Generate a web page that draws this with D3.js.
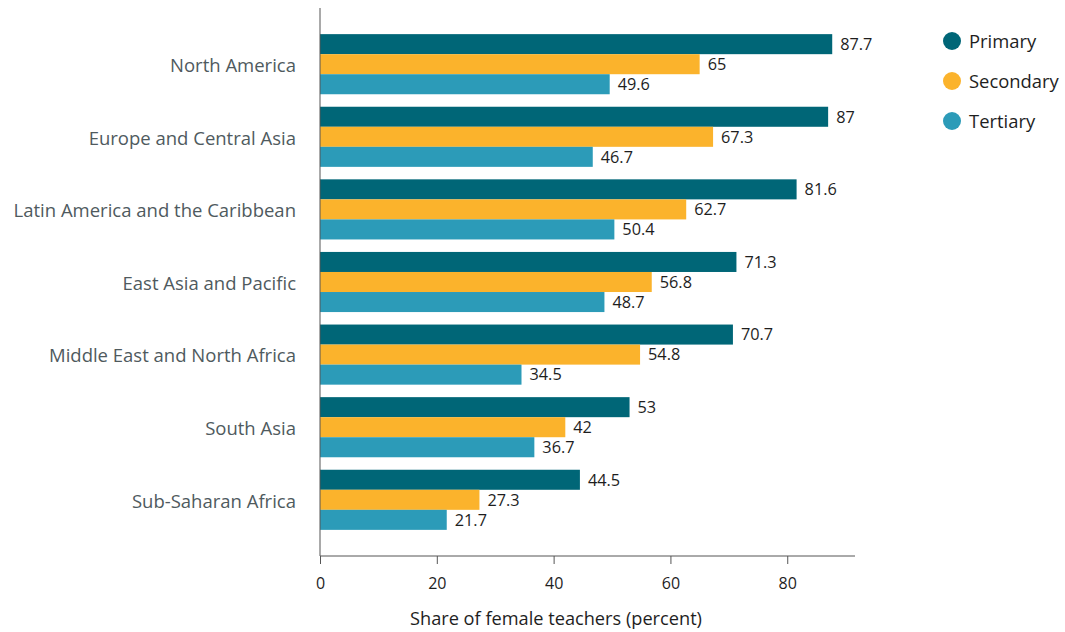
<!DOCTYPE html>
<html><head><meta charset="utf-8">
<script src="https://cdn.jsdelivr.net/npm/d3@7"></script>
<style>body{margin:0;background:#fff;} text{font-family:"Open Sans", sans-serif;}</style>
</head><body>
<svg id="chart" width="1065" height="632"></svg>
<script>
const categories = ["North America","Europe and Central Asia","Latin America and the Caribbean","East Asia and Pacific","Middle East and North Africa","South Asia","Sub-Saharan Africa"];
const seriesNames = ["Primary","Secondary","Tertiary"];
const primary = [87.7,87,81.6,71.3,70.7,53,44.5];
const secondary = [65,67.3,62.7,56.8,54.8,42,27.3];
const tertiary = [49.6,46.7,50.4,48.7,34.5,36.7,21.7];
const xTicks = [0,20,40,60,80];
const colors = ["#006677","#FBB32C","#2C9BB8"];

const series = [primary, secondary, tertiary];
const svg = d3.select("#chart");
const x = d3.scaleLinear().domain([0,91.6]).range([320,855]);
const y = d3.scaleBand().domain(categories).range([8,556]).paddingInner(0.172).paddingOuter(0.36);
const ySub = d3.scaleBand().domain(seriesNames).range([0,y.bandwidth()]);

const g = svg.append("g");
categories.forEach((c,i)=>{
  const gg = g.append("g").attr("transform",`translate(0,${y(c)})`);
  seriesNames.forEach((s,j)=>{
    const v = series[j][i];
    gg.append("rect").attr("x",x(0)).attr("y",ySub(s)).attr("width",x(v)-x(0)).attr("height",ySub.bandwidth()).attr("fill",colors[j]);
    gg.append("text").attr("x",x(v)+8).attr("y",ySub(s)+ySub.bandwidth()/2).attr("dy","0.36em")
      .attr("font-size",16.3).attr("fill","#1e1e1e").text(v);
  });
});

// y axis
const yAxis = svg.append("g").attr("transform","translate(320,0)")
  .call(d3.axisLeft(y).tickSize(0).tickPadding(24));
yAxis.select(".domain").attr("stroke","#555").attr("d","M0,8V556");
yAxis.selectAll("text").attr("font-size",18.5).attr("fill","#4f5a5e").attr("dy","0.42em").style("font-family","'Open Sans', sans-serif");

// x axis
const xAxis = svg.append("g").attr("transform","translate(0,556)")
  .call(d3.axisBottom(x).tickValues(xTicks).tickSize(8).tickPadding(14));
xAxis.select(".domain").attr("stroke","#555").attr("d","M320,0H855");
xAxis.selectAll(".tick line").attr("stroke","#555");
xAxis.selectAll("text").attr("font-size",16).attr("fill","#1e1e1e").style("font-family","'Open Sans', sans-serif");

svg.append("text").attr("x",556).attr("y",625).attr("text-anchor","middle").attr("font-size",18.2).attr("fill","#1e1e1e").text("Share of female teachers (percent)");

// legend
seriesNames.forEach((s,j)=>{
  svg.append("circle").attr("cx",952).attr("cy",41+40*j).attr("r",9).attr("fill",colors[j]);
  svg.append("text").attr("x",969).attr("y",41+40*j).attr("dy","0.36em").attr("font-size",18.4).attr("fill","#1e1e1e").text(s);
});
</script>
</body></html>
